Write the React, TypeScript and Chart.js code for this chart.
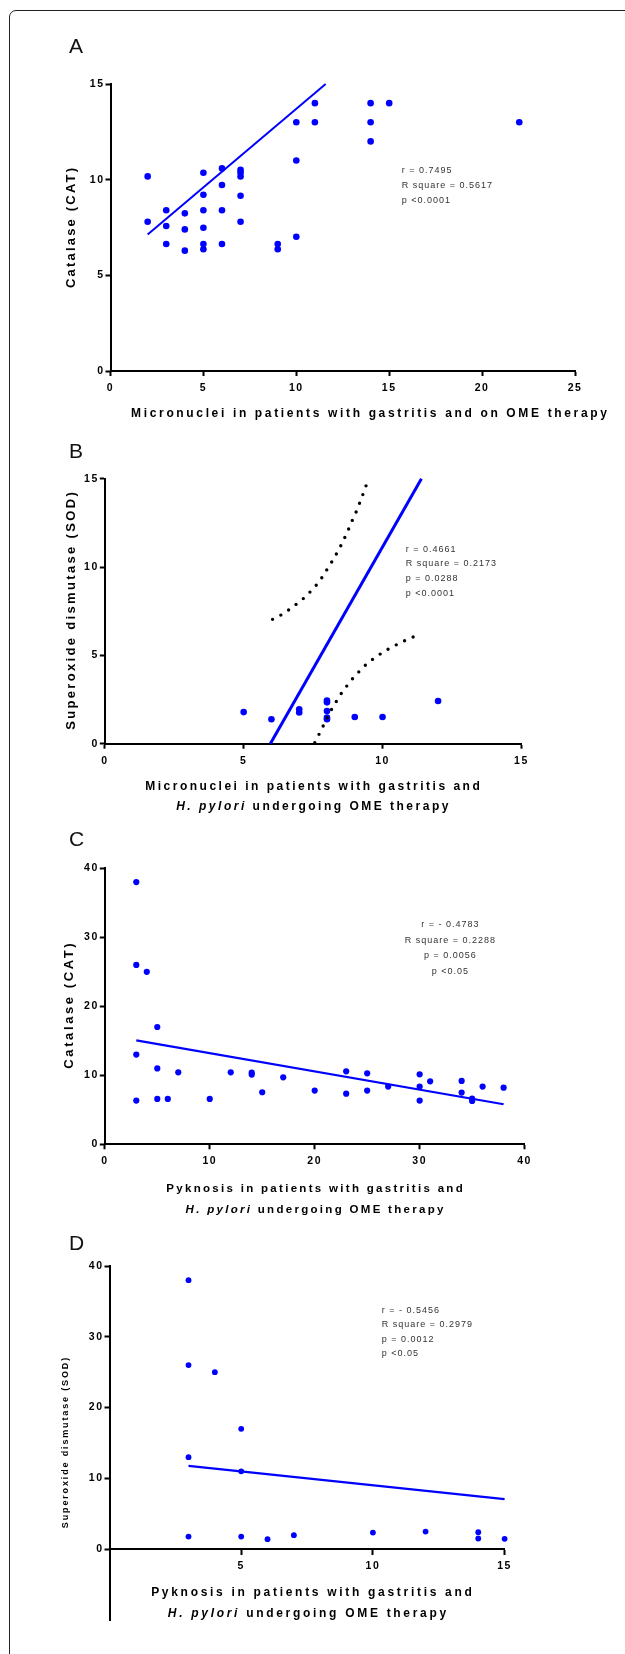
import React, { useEffect, useRef } from 'react';
import { Chart, registerables } from 'chart.js';

Chart.register(...registerables);

const FONT = "'Liberation Sans', Arial, Helvetica, sans-serif";
const BLUE = '#0000ff';
const PAGE_W = 625;
const Y_W = 40;
const X_H = 30;

// ---------- Panel A : Catalase vs micronuclei (gastritis, OME) ----------
const aMicronuclei = [2, 2, 3, 3, 3, 4, 4, 4, 5, 5, 5, 5, 5, 5, 6, 6, 6, 6, 7, 7, 7, 7, 7, 9, 9, 10, 10, 10, 11, 11, 14, 14, 14, 15, 22];
const aCatalase = [10.17, 7.8, 8.4, 7.58, 6.64, 8.24, 7.4, 6.29, 10.36, 9.21, 8.4, 7.49, 6.64, 6.36, 10.59, 9.72, 8.4, 6.64, 10.52, 10.38, 10.17, 9.16, 7.8, 6.64, 6.36, 13.0, 11.0, 7.02, 14.0, 13.0, 14.0, 13.0, 12.0, 14.0, 13.0];
const aFitX = [2, 11.58];
const aFitY = [7.13, 15];
const aXTicks = [0, 5, 10, 15, 20, 25];
const aYTicks = [0, 5, 10, 15];
const aStats = ['r = 0.7495', 'R square = 0.5617', 'p <0.0001'];

// ---------- Panel B : SOD vs micronuclei (gastritis + H. pylori) ----------
const bMicronuclei = [5, 6, 7, 7, 8, 8, 8, 8, 8, 9, 10, 12];
const bSOD = [1.79, 1.38, 1.95, 1.77, 2.44, 2.34, 1.85, 1.48, 1.39, 1.51, 1.51, 2.42];
const bFitX = [5.96, 11.4];
const bFitY = [0, 15];
const bUpperX = [6.04, 6.34, 6.62, 6.89, 7.16, 7.41, 7.64, 7.84, 8.02, 8.2, 8.37, 8.53, 8.67, 8.81, 8.94, 9.09, 9.21, 9.33, 9.44];
const bUpperY = [7.04, 7.28, 7.57, 7.89, 8.23, 8.62, 9.02, 9.45, 9.91, 10.36, 10.83, 11.3, 11.77, 12.26, 12.75, 13.26, 13.77, 14.26, 14.75];
const bLowerX = [7.56, 7.7, 7.85, 8.16, 8.33, 8.51, 8.72, 8.93, 9.16, 9.4, 9.67, 9.95, 10.25, 10.55, 10.87, 11.18];
const bLowerY = [0.06, 0.49, 0.96, 1.93, 2.38, 2.83, 3.28, 3.7, 4.09, 4.47, 4.81, 5.11, 5.4, 5.64, 5.89, 6.09];
const bXTicks = [0, 5, 10, 15];
const bYTicks = [0, 5, 10, 15];
const bStats = ['r = 0.4661', 'R square = 0.2173', 'p = 0.0288', 'p <0.0001'];

// ---------- Panel C : Catalase vs pyknosis ----------
const cPyknosis = [3, 3, 3, 3, 4, 5, 5, 5, 6, 7, 10, 12, 14, 14, 15, 17, 20, 23, 23, 25, 25, 27, 30, 30, 30, 31, 34, 34, 35, 35, 36, 38];
const cCatalase = [38, 26, 13, 6.33, 25, 17, 11, 6.57, 6.57, 10.43, 6.57, 10.43, 10.4, 10.1, 7.54, 9.71, 7.78, 10.58, 7.34, 10.29, 7.78, 8.36, 10.14, 8.36, 6.33, 9.13, 9.18, 7.49, 6.62, 6.28, 8.36, 8.21];
const cFitX = [3, 38];
const cFitY = [15.05, 5.8];
const cXTicks = [0, 10, 20, 30, 40];
const cYTicks = [0, 10, 20, 30, 40];
const cStats = ['r = - 0.4783', 'R square = 0.2288', 'p = 0.0056', 'p <0.05'];

// ---------- Panel D : SOD vs pyknosis ----------
const dPyknosis = [3, 3, 3, 3, 4, 5, 5, 5, 6, 7, 10, 12, 14, 14, 15];
const dSOD = [38, 26, 13, 1.79, 25, 17, 11, 1.79, 1.41, 1.98, 2.35, 2.49, 2.4, 1.51, 1.46];
const dFitX = [3, 15];
const dFitY = [11.76, 7.06];
const dXTicks = [5, 10, 15];
const dYTicks = [0, 10, 20, 30, 40];
const dStats = ['r = - 0.5456', 'R square = 0.2979', 'p = 0.0012', 'p <0.05'];

const zip = (xs: number[], ys: number[]) => xs.map((x, i) => ({ x, y: ys[i] }));

const pointsDs = (xs: number[], ys: number[], r: number) => ({
  data: zip(xs, ys),
  showLine: false,
  pointRadius: r,
  pointHoverRadius: r,
  pointBackgroundColor: BLUE,
  pointBorderColor: BLUE,
  pointBorderWidth: 0,
  clip: false as any,
});

const lineDs = (xs: number[], ys: number[], w: number) => ({
  data: zip(xs, ys),
  showLine: true,
  borderColor: BLUE,
  borderWidth: w,
  pointRadius: 0,
  fill: false,
  clip: false as any,
});

const dotDs = (xs: number[], ys: number[]) => ({
  data: zip(xs, ys),
  showLine: true,
  borderColor: '#000',
  borderWidth: 3.4,
  borderDash: [0, 9.3],
  borderCapStyle: 'round',
  pointRadius: 0,
  fill: false,
  clip: false as any,
});

type Panel = {
  top: number;
  height: number;
  area: { left: number; right: number; top: number; bottom: number };
  x: [number, number];
  y: [number, number];
  xTicks: number[];
  yTicks: number[];
  xAtZero: boolean;
  datasets: any[];
};

const panels: Panel[] = [
  {
    top: 0, height: 420,
    area: { left: 110.5, right: 575, top: 84, bottom: 371 },
    x: [0, 25], y: [0, 15], xTicks: aXTicks, yTicks: aYTicks, xAtZero: false,
    datasets: [lineDs(aFitX, aFitY, 2), pointsDs(aMicronuclei, aCatalase, 3.3)],
  },
  {
    top: 420, height: 400,
    area: { left: 104.8, right: 521.4, top: 478.7, bottom: 743.7 },
    x: [0, 15], y: [0, 15], xTicks: bXTicks, yTicks: bYTicks, xAtZero: false,
    datasets: [dotDs(bUpperX, bUpperY), dotDs(bLowerX, bLowerY), lineDs(bFitX, bFitY, 3), pointsDs(bMicronuclei, bSOD, 3.3)],
  },
  {
    top: 820, height: 400,
    area: { left: 104.8, right: 524.6, top: 868.3, bottom: 1144.3 },
    x: [0, 40], y: [0, 40], xTicks: cXTicks, yTicks: cYTicks, xAtZero: false,
    datasets: [lineDs(cFitX, cFitY, 2.2), pointsDs(cPyknosis, cCatalase, 3.1)],
  },
  {
    top: 1220, height: 434,
    area: { left: 109.5, right: 504.6, top: 1266, bottom: 1620 },
    x: [0, 15], y: [-10, 40], xTicks: dXTicks, yTicks: dYTicks, xAtZero: true,
    datasets: [lineDs(dFitX, dFitY, 2.2), pointsDs(dPyknosis, dSOD, 2.9)],
  },
];

const tickFont = { family: FONT, size: 10.5, weight: 'bold' as const };

const spacingPlugin = {
  id: 'tickSpacing',
  beforeDraw: (chart: any) => {
    chart.ctx.letterSpacing = '1.5px';
  },
};

function buildConfig(p: Panel): any {
  const padBottom = p.xAtZero
    ? p.top + p.height - p.area.bottom
    : p.top + p.height - p.area.bottom - X_H;
  const grid = {
    display: true,
    drawOnChartArea: false,
    drawTicks: true,
    tickLength: 5,
    tickWidth: 2,
    tickColor: '#000',
  };
  const border = { display: true, color: '#000', width: 2 };
  return {
    type: 'scatter',
    data: { datasets: p.datasets },
    options: {
      responsive: false,
      maintainAspectRatio: false,
      animation: false,
      devicePixelRatio: 1,
      events: [],
      layout: {
        autoPadding: false,
        padding: {
          left: p.area.left - Y_W,
          right: PAGE_W - p.area.right,
          top: p.area.top - p.top,
          bottom: padBottom,
        },
      },
      plugins: {
        legend: { display: false },
        tooltip: { enabled: false },
        title: { display: false },
      },
      scales: {
        x: {
          type: 'linear',
          min: p.x[0],
          max: p.x[1],
          position: p.xAtZero ? { y: 0 } : 'bottom',
          afterBuildTicks: (s: any) => {
            s.ticks = p.xTicks.map((v) => ({ value: v }));
          },
          afterFit: (s: any) => {
            s.height = X_H;
          },
          ticks: {
            font: tickFont,
            color: '#000',
            padding: 6,
            autoSkip: false,
            maxRotation: 0,
            callback: (v: any) => String(v),
          },
          grid,
          border,
        },
        y: {
          type: 'linear',
          min: p.y[0],
          max: p.y[1],
          position: 'left',
          afterBuildTicks: (s: any) => {
            s.ticks = p.yTicks.map((v) => ({ value: v }));
          },
          afterFit: (s: any) => {
            s.width = Y_W;
          },
          ticks: {
            font: tickFont,
            color: '#000',
            padding: 1,
            autoSkip: false,
            callback: (v: any) => String(v),
          },
          grid,
          border,
        },
      },
    },
    plugins: [spacingPlugin],
  };
}

function PanelChart({ panel }: { panel: Panel }) {
  const ref = useRef<HTMLCanvasElement | null>(null);
  useEffect(() => {
    if (!ref.current) return;
    const chart = new Chart(ref.current, buildConfig(panel));
    return () => chart.destroy();
  }, [panel]);
  return (
    <canvas
      ref={ref}
      width={PAGE_W}
      height={panel.height}
      style={{ position: 'absolute', left: 0, top: panel.top, width: PAGE_W, height: panel.height }}
    />
  );
}

const abs: React.CSSProperties = { position: 'absolute', whiteSpace: 'nowrap', fontFamily: FONT };

function Letter({ ch, y }: { ch: string; y: number }) {
  return (
    <div style={{ ...abs, left: 69, top: y, fontSize: 21, lineHeight: '21px', transform: 'translateY(-50%)', color: '#111' }}>
      {ch}
    </div>
  );
}

function XTitle({ cx, cy, size, ls, children }: { cx: number; cy: number; size: number; ls: number; children: React.ReactNode }) {
  return (
    <div
      style={{
        ...abs,
        left: cx,
        top: cy,
        fontSize: size,
        fontWeight: 'bold',
        letterSpacing: ls,
        paddingLeft: ls,
        lineHeight: 1,
        color: '#000',
        transform: 'translate(-50%, -50%)',
      }}
    >
      {children}
    </div>
  );
}

function YTitle({ cx, cy, size, ls, text }: { cx: number; cy: number; size: number; ls: number; text: string }) {
  return (
    <div
      style={{
        ...abs,
        left: cx,
        top: cy,
        fontSize: size,
        fontWeight: 'bold',
        letterSpacing: ls,
        paddingLeft: ls,
        lineHeight: 1,
        color: '#000',
        transform: 'translate(-50%, -50%) rotate(-90deg)',
      }}
    >
      {text}
    </div>
  );
}

function Stats({ lines, x, y, lh, center }: { lines: string[]; x: number; y: number; lh: number; center?: boolean }) {
  return (
    <div
      style={{
        ...abs,
        left: x,
        top: y - lh / 2,
        fontSize: 9,
        letterSpacing: 1,
        lineHeight: `${lh}px`,
        color: '#333',
        textAlign: center ? 'center' : 'left',
        transform: center ? 'translateX(-50%)' : undefined,
      }}
    >
      {lines.map((l, i) => (
        <div key={i}>{l}</div>
      ))}
    </div>
  );
}

export default function App() {
  return (
    <div
      style={{
        position: 'absolute',
        left: 0,
        top: 0,
        width: PAGE_W,
        height: 1654,
        overflow: 'hidden',
        background: '#fff',
      }}
    >
      <div
        style={{
          position: 'absolute',
          left: 9,
          top: 10,
          width: 700,
          height: 1700,
          border: '1px solid #222',
          borderRadius: 7,
          boxSizing: 'border-box',
        }}
      />
      {panels.map((p, i) => (
        <PanelChart key={i} panel={p} />
      ))}

      <Letter ch="A" y={45} />
      <Letter ch="B" y={449.5} />
      <Letter ch="C" y={837.5} />
      <Letter ch="D" y={1241.5} />

      <YTitle cx={69.8} cy={227.5} size={13} ls={2.2} text="Catalase (CAT)" />
      <XTitle cx={369} cy={412.5} size={12} ls={2.65}>
        Micronuclei in patients with gastritis and on OME therapy
      </XTitle>
      <Stats lines={aStats} x={401.7} y={170.7} lh={15} />

      <YTitle cx={69.8} cy={610.5} size={13} ls={2.34} text="Superoxide dismutase (SOD)" />
      <XTitle cx={312.5} cy={785.7} size={12} ls={2.5}>
        Micronuclei in patients with gastritis and
      </XTitle>
      <XTitle cx={312.3} cy={805.7} size={12} ls={2.5}>
        <i>H. pylori</i> undergoing OME therapy
      </XTitle>
      <Stats lines={bStats} x={405.8} y={549} lh={14.7} />

      <YTitle cx={67.8} cy={1006} size={13} ls={2.6} text="Catalase (CAT)" />
      <XTitle cx={314.5} cy={1189.3} size={11.5} ls={2.3}>
        Pyknosis in patients with gastritis and
      </XTitle>
      <XTitle cx={314.5} cy={1210} size={11.5} ls={2.3}>
        <i>H. pylori</i> undergoing OME therapy
      </XTitle>
      <Stats lines={cStats} x={450.4} y={924.7} lh={15.8} center />

      <YTitle cx={65} cy={1443.3} size={9} ls={1.85} text="Superoxide dismutase (SOD)" />
      <XTitle cx={311.5} cy={1591.7} size={12} ls={2.7}>
        Pyknosis in patients with gastritis and
      </XTitle>
      <XTitle cx={307} cy={1612.5} size={12} ls={2.7}>
        <i>H. pylori</i> undergoing OME therapy
      </XTitle>
      <Stats lines={dStats} x={381.7} y={1310} lh={14.5} />
    </div>
  );
}
